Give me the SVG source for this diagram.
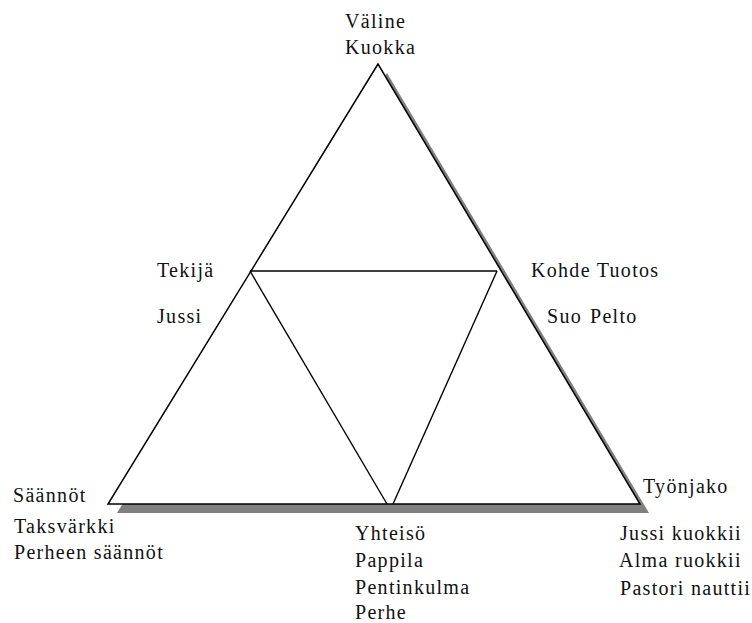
<svg xmlns="http://www.w3.org/2000/svg" width="752" height="623" viewBox="0 0 752 623">
  <style>
    .lbl { font-family: "Liberation Serif", "Times New Roman", serif; font-size: 20px; letter-spacing: 1.3px; fill: #111; }
    .edge { fill: none; stroke: #000; stroke-width: 1.4; }
  </style>
  <rect width="752" height="623" fill="#fff"/>

  <!-- outer triangle with drop shadow -->
  <g id="outer-triangle">
    <polygon points="387,73 117,513 649,513" fill="#808080"/>
    <polygon points="378,64 108,504 640,504" fill="#fff" stroke="#000" stroke-width="1.5" stroke-linejoin="miter"/>
  </g>

  <!-- inner triangle lines -->
  <g id="connectors">
    <line class="edge" x1="250" y1="271" x2="497" y2="271"/>
    <line class="edge" x1="250" y1="271" x2="387" y2="504"/>
    <line class="edge" x1="497" y1="271" x2="393" y2="504"/>
  </g>

  <g id="valine">
    <text class="lbl" x="345" y="28">Väline</text>
    <text class="lbl" x="345" y="54">Kuokka</text>
  </g>

  <g id="tekija">
    <text class="lbl" x="157" y="277">Tekijä</text>
    <text class="lbl" x="157" y="323">Jussi</text>
  </g>

  <g id="kohde">
    <text class="lbl" x="531" y="277">Kohde Tuotos</text>
    <text class="lbl" x="547" y="323">Suo <tspan x="590">Pelto</tspan></text>
  </g>

  <g id="saannot">
    <text class="lbl" x="13" y="502">Säännöt</text>
    <text class="lbl" x="14" y="533">Taksvärkki</text>
    <text class="lbl" x="14" y="559">Perheen säännöt</text>
  </g>

  <g id="yhteiso">
    <text class="lbl" x="355" y="540">Yhteisö</text>
    <text class="lbl" x="355" y="567">Pappila</text>
    <text class="lbl" x="355" y="594">Pentinkulma</text>
    <text class="lbl" x="355" y="619">Perhe</text>
  </g>

  <g id="tyonjako">
    <text class="lbl" x="643" y="493">Työnjako</text>
    <text class="lbl" x="620" y="540">Jussi kuokkii</text>
    <text class="lbl" x="619" y="567">Alma ruokkii</text>
    <text class="lbl" x="620" y="595">Pastori nauttii</text>
  </g>
</svg>
